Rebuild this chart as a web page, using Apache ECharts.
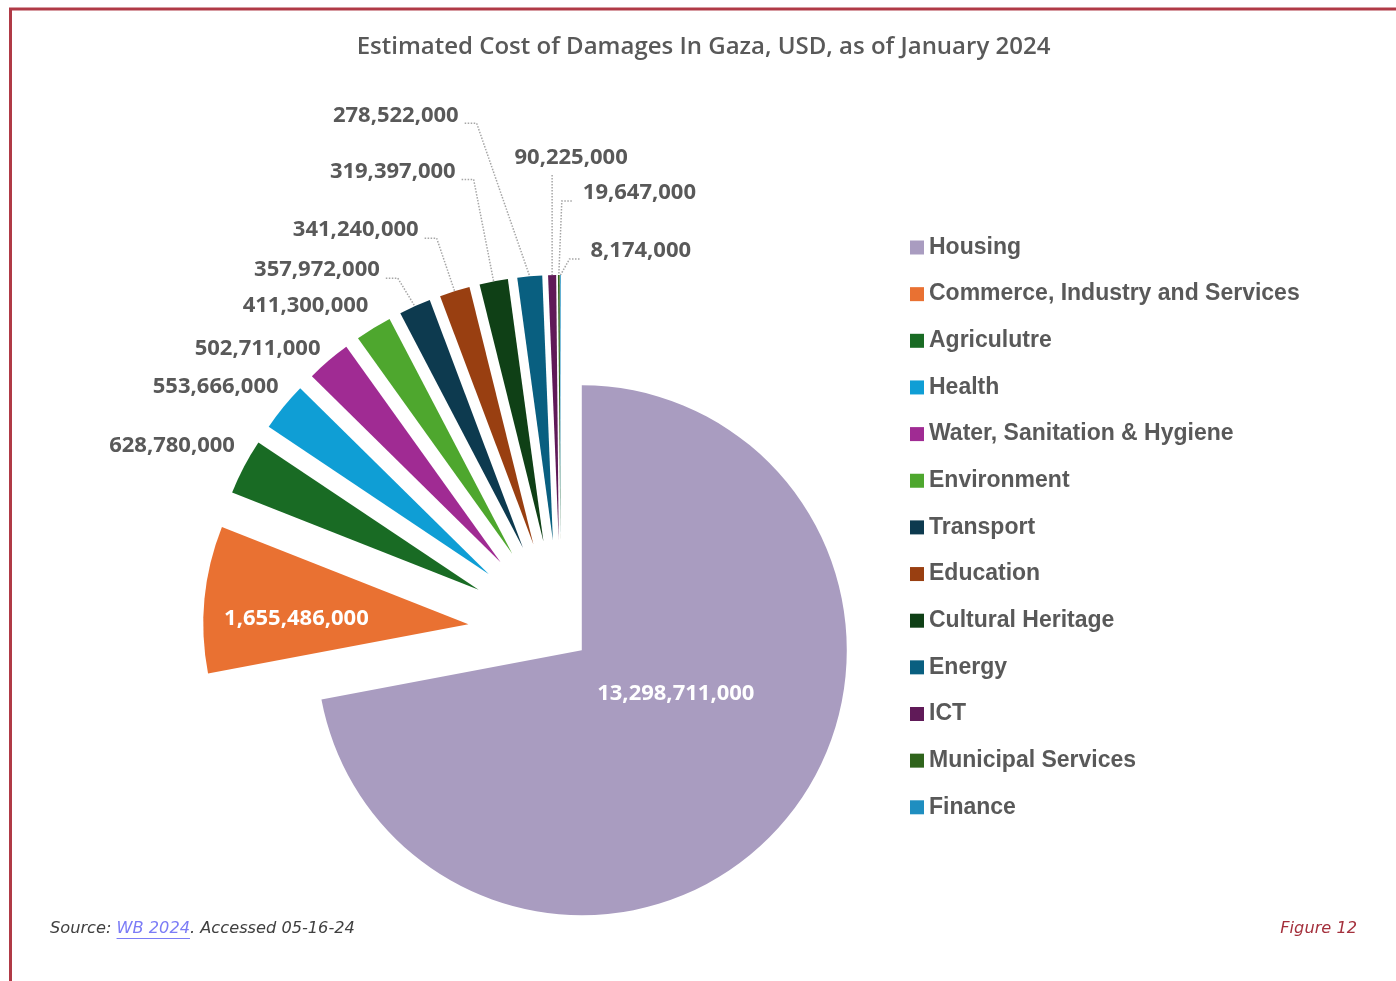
<!DOCTYPE html>
<html>
<head>
<meta charset="utf-8">
<title>Estimated Cost of Damages In Gaza</title>
<script src="https://cdn.jsdelivr.net/npm/echarts@6/dist/echarts.min.js"></script>
<style>
  html, body { margin: 0; padding: 0; background: #ffffff; }
  #chart { width: 1396px; height: 981px; }
</style>
</head>
<body>
<div id="chart"></div>
<script>
// ---- data -------------------------------------------------------------
const categories = [
  'Housing',
  'Commerce, Industry and Services',
  'Agriculutre',
  'Health',
  'Water, Sanitation & Hygiene',
  'Environment',
  'Transport',
  'Education',
  'Cultural Heritage',
  'Energy',
  'ICT',
  'Municipal Services',
  'Finance'
];
const damagesUSD = [
  13298711000, 1655486000, 628780000, 553666000, 502711000, 411300000,
  357972000, 341240000, 319397000, 278522000, 90225000, 19647000, 8174000
];
const sliceColors = [
  '#A99CC0', '#E97132', '#196B24', '#0F9ED5', '#A02B93', '#4EA72E',
  '#0D3A4F', '#993F11', '#0F4016', '#095F80', '#601A58', '#2F641C', '#1F8EC0'
];

// ---- layout -----------------------------------------------------------
const CX = 561, CY = 633, R = 265;
const HOUSING_OFFSET = 27;   // Housing pulled out a little
const SLICE_OFFSET = 93;     // every other sector pulled out further
const GREY = '#595959';
const LABEL_FONT = 'Open Sans';
const NONE = 'rgba(0,0,0,0)';

// Value label placement: offset from the sector's apex (inside labels)
// or from the middle of its outer rim (outside labels).
const labelPlacement = [
  { from: 'apex', dx: 94,  dy: 44,   align: 'center' },
  { from: 'apex', dx: -172, dy: -6,  align: 'center' },
  { from: 'rim',  dx: -9,  dy: -21,  align: 'right' },
  { from: 'rim',  dx: -5,  dy: -20,  align: 'right' },
  { from: 'rim',  dx: -8,  dy: -12,  align: 'right' },
  { from: 'rim',  dx: -5,  dy: -22,  align: 'right' },
  { from: 'rim',  dx: -35, dy: -36,  align: 'right', leader: true },
  { from: 'rim',  dx: -36, dy: -61,  align: 'right', leader: true },
  { from: 'rim',  dx: -38, dy: -110, align: 'right', leader: true },
  { from: 'rim',  dx: -71, dy: -161, align: 'right', leader: true },
  { from: 'rim',  dx: 19,  dy: -117, align: 'center', leader: true },
  { from: 'rim',  dx: 24,  dy: -82,  align: 'left', leader: true },
  { from: 'rim',  dx: 30,  dy: -24,  align: 'left', leader: true }
];

const total = damagesUSD.reduce((a, b) => a + b, 0);

// apex and rim midpoint of sector i once it has been pulled out
function sectorGeometry(i) {
  let before = 0;
  for (let k = 0; k < i; k++) before += damagesUSD[k];
  const mid = (before + damagesUSD[i] / 2) / total * Math.PI * 2; // clockwise from 12 o'clock
  const ux = Math.sin(mid), uy = -Math.cos(mid);
  const off = i === 0 ? HOUSING_OFFSET : SLICE_OFFSET;
  const apex = [CX + off * ux, CY + off * uy];
  const rim = [apex[0] + R * ux, apex[1] + R * uy];
  return { apex, rim };
}

function placeLabel(params) {
  const i = params.dataIndex;
  const p = labelPlacement[i];
  const g = sectorGeometry(i);
  const ref = p.from === 'apex' ? g.apex : g.rim;
  const x = ref[0] + p.dx, y = ref[1] + p.dy;
  const out = { x: x, y: y, align: p.align, verticalAlign: 'middle' };
  if (p.leader) {
    let start, bend;
    if (p.align === 'right') {
      start = [x + 6, y + 8]; bend = [x + 18, y + 8];
    } else if (p.align === 'left') {
      start = [x - 11, y + 8]; bend = [x - 21, y + 8];
    } else {
      start = [g.rim[0], y + 17]; bend = [g.rim[0], y + 17];
    }
    out.labelLinePoints = [start, bend, g.rim.slice()];
  }
  return out;
}

const fmt = v => v.toLocaleString('en-US');

const pieCommon = {
  type: 'pie',
  center: [CX, CY],
  radius: [0, R],
  startAngle: 90,
  clockwise: true,
  avoidLabelOverlap: false,
  emphasis: { disabled: true },
  itemStyle: { borderWidth: 0 },
  label: { show: false },
  labelLine: { show: false }
};

// Housing sector drawn alone (others kept, invisible, so the angles match)
const housingData = categories.map((name, i) => ({
  name, value: damagesUSD[i], selected: i === 0,
  itemStyle: { color: i === 0 ? sliceColors[i] : NONE }
}));

// the remaining sectors, all pulled out
const otherData = categories.map((name, i) => ({
  name, value: damagesUSD[i], selected: i !== 0,
  itemStyle: { color: i === 0 ? NONE : sliceColors[i] }
}));

// value labels with their leader lines
const labelData = categories.map((name, i) => {
  const p = labelPlacement[i];
  const item = {
    name, value: damagesUSD[i],
    itemStyle: { color: NONE },
    labelLine: { show: !!p.leader }
  };
  if (p.from === 'apex') item.label = { position: 'inside', color: '#ffffff' };
  return item;
});

// text measuring for the title position and the source-link underline
const measureCtx = document.createElement('canvas').getContext('2d');
function textWidth(font, text) {
  measureCtx.font = font;
  return measureCtx.measureText(text).width;
}

const TITLE = 'Estimated Cost of Damages In Gaza, USD, as of January 2024';
const TITLE_FONT_SIZE = 24;
const TITLE_CENTER_X = 703.5;
const titleLeft = TITLE_CENTER_X - textWidth('600 ' + TITLE_FONT_SIZE + 'px "Open Sans"', TITLE) / 2;

const SRC_FONT = 'italic 16.2px "DejaVu Sans"';
const SRC_X = 50, SRC_Y = 929;
const linkStart = SRC_X + textWidth(SRC_FONT, 'Source: ');
const linkEnd = linkStart + textWidth(SRC_FONT, 'WB 2024');

const chart = echarts.init(document.getElementById('chart'), null, { renderer: 'canvas' });
chart.setOption({
  animation: false,
  backgroundColor: '#ffffff',
  title: {
    text: TITLE,
    left: titleLeft,
    top: 35,
    padding: 0,
    textStyle: { fontFamily: 'Open Sans', fontWeight: 600, fontSize: TITLE_FONT_SIZE, color: GREY }
  },
  legend: {
    orient: 'vertical',
    left: 905,
    top: 231,
    itemWidth: 14,
    itemHeight: 14,
    itemGap: 23.65,
    icon: 'rect',
    selectedMode: false,
    textStyle: { fontFamily: 'Liberation Sans', fontWeight: 'bold', fontSize: 23, color: GREY },
    data: categories.map((name, i) => ({
      name, itemStyle: { color: sliceColors[i], opacity: 1, borderWidth: 0 }
    }))
  },
  series: [
    Object.assign({}, pieCommon, {
      name: 'Housing',
      selectedMode: 'multiple',
      selectedOffset: HOUSING_OFFSET,
      data: housingData
    }),
    Object.assign({}, pieCommon, {
      name: 'Sectors',
      selectedMode: 'multiple',
      selectedOffset: SLICE_OFFSET,
      data: otherData
    }),
    Object.assign({}, pieCommon, {
      name: 'Values',
      silent: true,
      selectedMode: false,
      label: {
        show: true,
        position: 'outside',
        fontFamily: LABEL_FONT,
        fontWeight: 'bold',
        fontSize: 22,
        color: GREY,
        formatter: p => fmt(p.value)
      },
      labelLine: {
        show: true, length: 10, length2: 10,
        lineStyle: { color: '#A6A6A6', width: 1.5, type: 'dotted', opacity: 1 }
      },
      labelLayout: placeLabel,
      data: labelData
    })
  ],
  graphic: [
    {
      type: 'polyline', silent: true,
      shape: { points: [[10.5, 981], [10.5, 9], [1396, 9]] },
      style: { stroke: '#B03A46', lineWidth: 3, fill: null }
    },
    {
      type: 'text', silent: true, x: SRC_X, y: SRC_Y,
      style: {
        text: '{a|Source: }{b|WB 2024}{a|. Accessed 05-16-24}',
        verticalAlign: 'middle',
        rich: {
          a: { font: SRC_FONT, fill: '#404040' },
          b: { font: SRC_FONT, fill: '#7B7CF6' }
        }
      }
    },
    {
      type: 'line', silent: true,
      shape: { x1: linkStart, y1: 938.5, x2: linkEnd, y2: 938.5 },
      style: { stroke: '#7B7CF6', lineWidth: 1 }
    },
    {
      type: 'text', silent: true, x: 1357, y: SRC_Y,
      style: {
        text: 'Figure 12', align: 'right', verticalAlign: 'middle',
        font: SRC_FONT, fill: '#A4303C'
      }
    }
  ]
});
</script>
</body>
</html>
